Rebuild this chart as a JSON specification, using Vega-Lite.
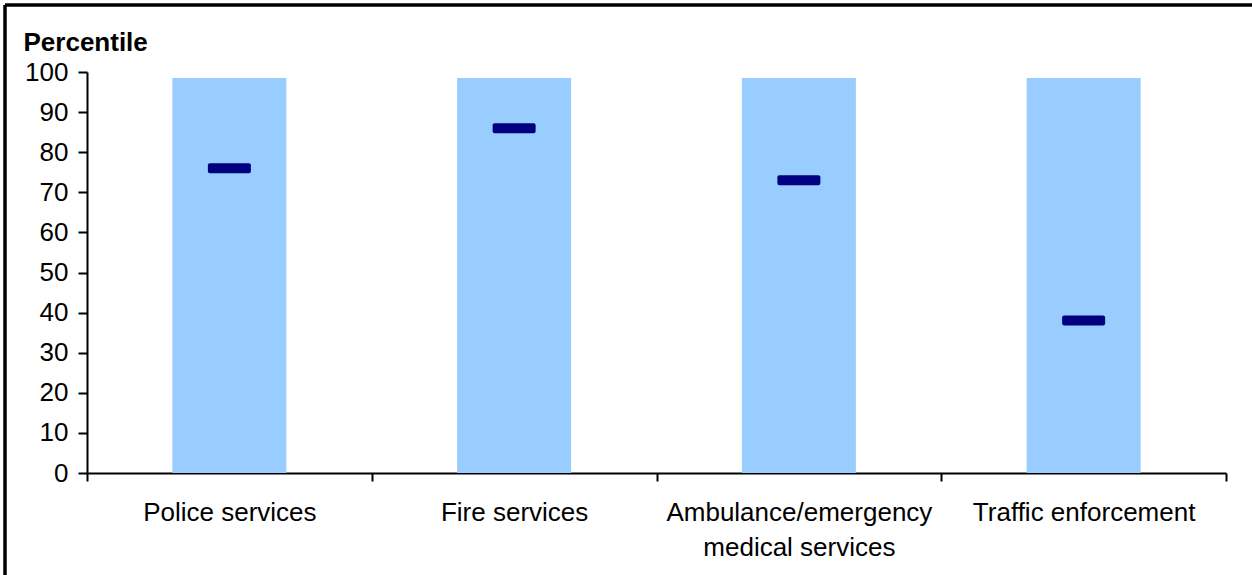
{
  "$schema": "https://vega.github.io/schema/vega-lite/v6.json",
  "width": 1247,
  "height": 570,
  "autosize": {"type": "none"},
  "padding": {"left": 5, "top": 5, "right": 0, "bottom": 0},
  "background": "white",
  "config": {"view": {"stroke": null}, "font": "Liberation Sans"},
  "layer": [
    {
      "data": {
        "values": [
          {"service": "Police services", "top": 98.5, "percentile": 76},
          {"service": "Fire services", "top": 98.5, "percentile": 86},
          {"service": "Ambulance/emergency medical services", "top": 98.5, "percentile": 73},
          {"service": "Traffic enforcement", "top": 98.5, "percentile": 38}
        ]
      },
      "encoding": {
        "x": {
          "field": "service",
          "type": "nominal",
          "sort": null,
          "scale": {"range": [82, 1221], "paddingInner": 0, "paddingOuter": 0},
          "axis": {
            "orient": "bottom",
            "offset": -102,
            "title": null,
            "labelAngle": 0,
            "labelFontSize": 26,
            "labelFont": "Liberation Sans",
            "labelColor": "black",
            "labelPadding": 18,
            "labelLimit": 400,
            "labelOverlap": false,
            "labelLineHeight": 35,
            "labelExpr": "datum.value == 'Ambulance/emergency medical services' ? ['Ambulance/emergency', 'medical services'] : datum.value",
            "tickBand": "extent",
            "tickSize": 8,
            "tickWidth": 2,
            "tickColor": "black",
            "domainColor": "black",
            "domainWidth": 2,
            "grid": false
          }
        }
      },
      "layer": [
        {
          "mark": {"type": "bar", "size": 114, "color": "#99CCFF"},
          "encoding": {
            "y": {
              "field": "top",
              "type": "quantitative",
              "scale": {"domain": [0, 100], "range": [468, 67], "nice": false, "zero": true},
              "axis": {
                "orient": "left",
                "offset": -82,
                "values": [0, 10, 20, 30, 40, 50, 60, 70, 80, 90, 100],
                "grid": false,
                "domainColor": "black",
                "domainWidth": 2,
                "tickColor": "black",
                "tickWidth": 2,
                "tickSize": 9,
                "labelFontSize": 26,
                "labelFont": "Liberation Sans",
                "labelColor": "black",
                "labelPadding": 10,
                "title": "Percentile",
                "titleFont": "Liberation Sans",
                "titleFontSize": 26,
                "titleFontWeight": "bold",
                "titleColor": "black",
                "titleAngle": 0,
                "titleAlign": "left",
                "titleBaseline": "alphabetic",
                "titleX": -64,
                "titleY": 45
              }
            }
          }
        },
        {
          "mark": {"type": "tick", "size": 43, "thickness": 10, "color": "#000080", "cornerRadius": 2, "opacity": 1},
          "encoding": {
            "y": {"field": "percentile", "type": "quantitative"}
          }
        }
      ]
    },
    {
      "data": {"values": [{}]},
      "mark": {"type": "rule", "color": "black", "strokeWidth": 3.5},
      "encoding": {
        "x": {"datum": 0, "type": "quantitative", "scale": {"domain": [0, 1]}, "axis": null}
      }
    },
    {
      "data": {"values": [{}]},
      "mark": {"type": "rule", "color": "black", "strokeWidth": 3.5},
      "encoding": {
        "y": {"datum": 1, "type": "quantitative", "scale": {"domain": [0, 1]}, "axis": null}
      }
    }
  ],
  "resolve": {"scale": {"x": "independent", "y": "independent"}}
}
